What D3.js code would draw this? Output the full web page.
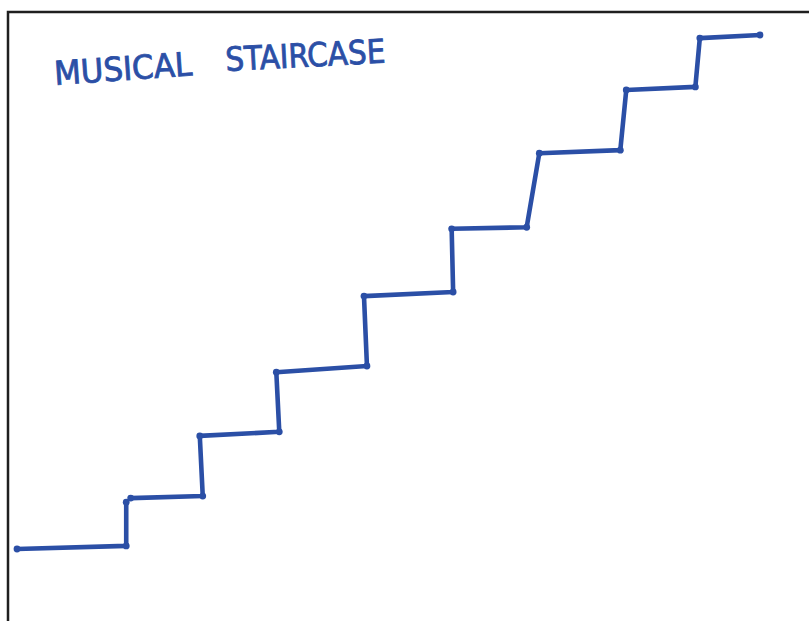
<!DOCTYPE html>
<html>
<head>
<meta charset="utf-8">
<script src="https://cdn.jsdelivr.net/npm/d3@7"></script>
<style>
  body { margin: 0; background: #fff; }
  svg { display: block; }
</style>
</head>
<body>
<script>
// staircase vertices, in chart units (x: 0..100 left->right, y: 0..100 bottom->top)
const stairX1 = [0, 14.7, 14.7];
const stairY1 = [0, 0.6, 9.1];
const stairX2 = [15.3, 25.0, 24.6, 35.3, 34.9, 47.1, 46.7, 58.7, 58.5, 68.6, 70.3, 81.2, 82.0, 91.3, 91.9, 100];
const stairY2 = [9.9, 10.3, 22.0, 22.8, 34.4, 35.6, 49.2, 50.0, 62.3, 62.6, 77.0, 77.6, 89.3, 89.9, 99.4, 100];

const titleWords = ["MUSICAL", "STAIRCASE"];

const w = 809;
const h = 621;
const ink = "#2b4fa6";

const svg = d3.select("body")
  .append("svg")
  .attr("width", w)
  .attr("height", h);

// frame (only top and left edges show in the photo)
svg.append("path")
  .attr("d", `M8,${h} L8,12 L${w},12`)
  .attr("fill", "none")
  .attr("stroke", "#1f1f1f")
  .attr("stroke-width", 2.5);

const xScale = d3.scaleLinear().domain([0, 100]).range([17, 760]);
const yScale = d3.scaleLinear().domain([0, 100]).range([549, 35]);

const line = d3.line()
  .x(d => xScale(d[0]))
  .y(d => yScale(d[1]));

const strokes = [
  stairX1.map((x, i) => [x, stairY1[i]]),
  stairX2.map((x, i) => [x, stairY2[i]])
];

svg.selectAll("path.stair")
  .data(strokes)
  .enter()
  .append("path")
  .attr("class", "stair")
  .attr("d", line)
  .attr("fill", "none")
  .attr("stroke", ink)
  .attr("stroke-width", 4.6)
  .attr("stroke-linejoin", "round")
  .attr("stroke-linecap", "round");

// little pen blots at the corners
svg.selectAll("circle.blot")
  .data(strokes.flat())
  .enter()
  .append("circle")
  .attr("class", "blot")
  .attr("cx", d => xScale(d[0]))
  .attr("cy", d => yScale(d[1]))
  .attr("r", 3.4)
  .attr("fill", ink);

// hand-lettered title, tilted up a little
const titlePos = [[55, 85, 138, -4], [226, 71, 160, -3]];
svg.selectAll("text.title")
  .data(titleWords)
  .enter()
  .append("text")
  .attr("class", "title")
  .attr("x", (d, i) => titlePos[i][0])
  .attr("y", (d, i) => titlePos[i][1])
  .attr("textLength", (d, i) => titlePos[i][2])
  .attr("lengthAdjust", "spacingAndGlyphs")
  .attr("transform", (d, i) => `rotate(${titlePos[i][3]}, ${titlePos[i][0]}, ${titlePos[i][1]})`)
  .attr("font-family", "DejaVu Sans Condensed, DejaVu Sans, sans-serif")
  .attr("font-size", 33)
  .attr("fill", ink)
  .attr("stroke", ink)
  .attr("stroke-width", 0.8)
  .text(d => d);
</script>
</body>
</html>
